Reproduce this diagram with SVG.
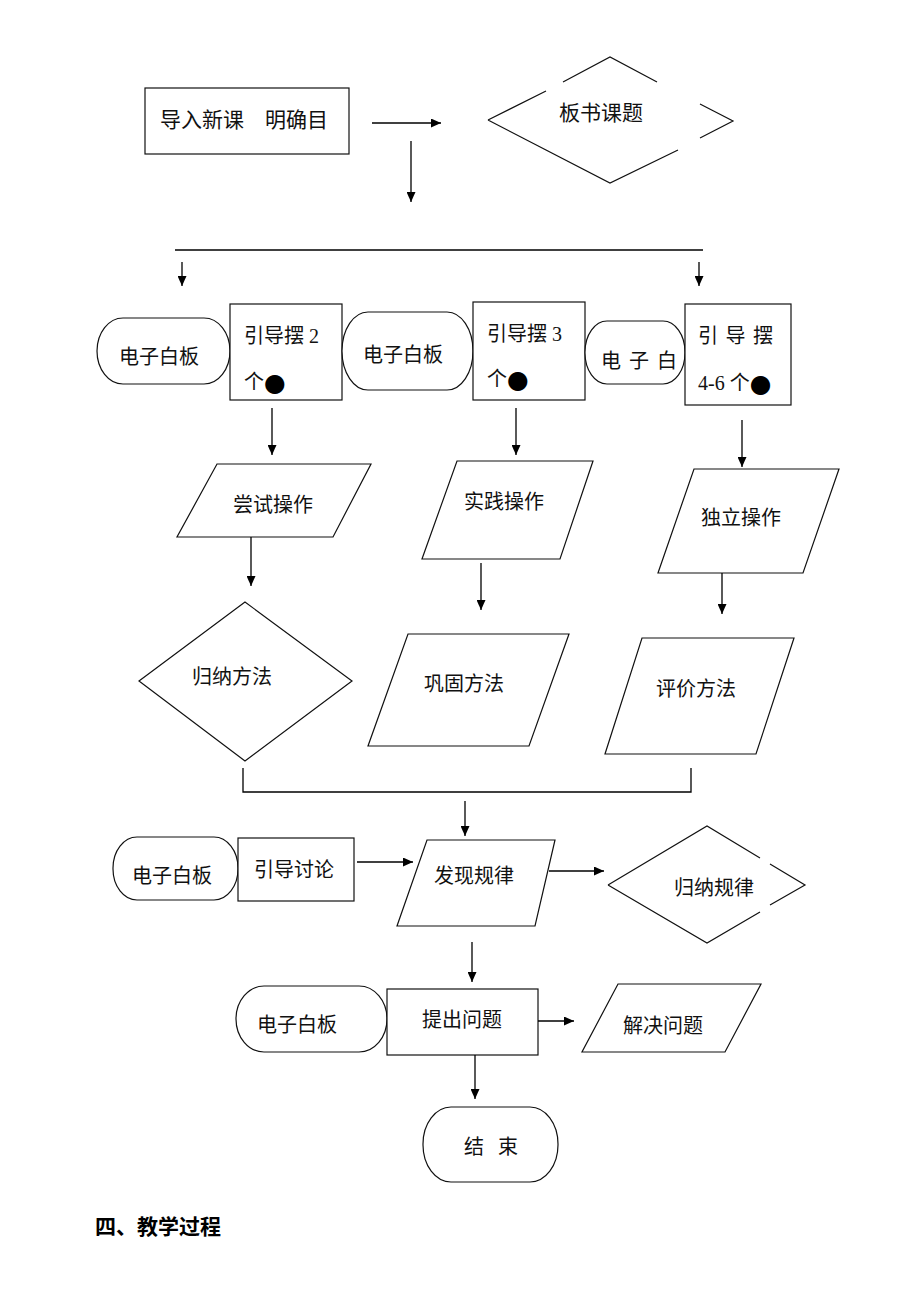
<svg xmlns="http://www.w3.org/2000/svg" width="920" height="1303" viewBox="0 0 920 1303">
<style>
  .s{fill:#fff;stroke:#111;stroke-width:1.2}
  .o{fill:none;stroke:#111;stroke-width:1.2}
  .c{fill:none;stroke:#000;stroke-width:1.3}
  .a{marker-end:url(#ah)}
  text{font-family:"Liberation Serif","Noto Sans CJK SC",serif;font-size:20px;fill:#111;dominant-baseline:central}
  .m{text-anchor:middle}
  .b{font-weight:bold;font-size:21px;fill:#000}
  .dot{font-family:"DejaVu Sans",sans-serif;font-size:25px;fill:#000}
</style>
<defs>
  <marker id="ah" markerUnits="userSpaceOnUse" markerWidth="10" markerHeight="9" refX="10" refY="4.5" orient="auto">
    <path d="M0,0 L10,4.5 L0,9 z" fill="#000"/>
  </marker>
</defs>
<rect width="920" height="1303" fill="#fff"/>

<g id="n-intro"><rect class="s" x="145" y="88" width="204" height="66"/><text x="160" y="120" style="font-size:21px">导入新课　明确目</text></g>
<g id="n-title"><path class="o" d="M488,120 L546,91 M563,82 L610,57 L657,82 M700,104 L733,121 L700,138 M678,150 L610,183 L488,120"/><text class="m" x="601" y="113" style="font-size:21px">板书课题</text></g>

<g id="n-wb1"><rect class="s" x="97" y="318" width="133" height="66" rx="26" ry="33"/><text class="m" x="159" y="357">电子白板</text></g>
<g id="n-g1"><rect class="s" x="230" y="304" width="112" height="96"/><text x="244" y="336">引导摆 2</text><text x="244" y="382">个<tspan class="dot">●</tspan></text></g>
<g id="n-wb2"><rect class="s" x="342" y="312" width="131" height="78" rx="26" ry="39"/><text class="m" x="403" y="355">电子白板</text></g>
<g id="n-g2"><rect class="s" x="473" y="302" width="112" height="98"/><text x="487" y="334">引导摆 3</text><text x="487" y="379">个<tspan class="dot">●</tspan></text></g>
<g id="n-wb3"><rect class="s" x="585" y="321" width="100" height="63" rx="22" ry="31"/><text x="601" y="361" textLength="76" lengthAdjust="spacing">电 子 白</text></g>
<g id="n-g3"><rect class="s" x="685" y="304" width="106" height="101"/><text x="698" y="336" textLength="75" lengthAdjust="spacing">引 导 摆</text><text x="698" y="383">4-6 个<tspan class="dot">●</tspan></text></g>

<g id="n-try"><polygon class="s" points="217,464 371,464 333,537 177,537"/><text class="m" x="273" y="505">尝试操作</text></g>
<g id="n-practice"><polygon class="s" points="457,461 593,461 560,559 422,559"/><text class="m" x="504" y="502">实践操作</text></g>
<g id="n-indep"><polygon class="s" points="694,469 839,469 803,573 658,573"/><text class="m" x="741" y="518">独立操作</text></g>

<g id="n-method"><polygon class="s" points="139,681 245,602 352,681 245,761"/><text class="m" x="232" y="677">归纳方法</text></g>
<g id="n-consol"><polygon class="s" points="408,634 569,634 529,746 368,746"/><text class="m" x="464" y="684">巩固方法</text></g>
<g id="n-eval"><polygon class="s" points="642,638 794,638 756,754 605,754"/><text class="m" x="696" y="689">评价方法</text></g>

<g id="n-wb4"><rect class="s" x="113" y="837" width="125" height="63" rx="24" ry="31"/><text class="m" x="172" y="876">电子白板</text></g>
<g id="n-discuss"><rect class="s" x="238" y="838" width="116" height="63"/><text class="m" x="294" y="870">引导讨论</text></g>
<g id="n-find"><polygon class="s" points="427,840 555,840 535,926 397,926"/><text class="m" x="474" y="876">发现规律</text></g>
<g id="n-rule"><path class="o" d="M608,885 L707,826 L760,858 M770,864 L805,885 L770,905 M760,912 L707,943 L608,885"/><text class="m" x="714" y="888">归纳规律</text></g>

<g id="n-wb5"><rect class="s" x="236" y="986" width="151" height="66" rx="28" ry="33"/><text class="m" x="297" y="1025">电子白板</text></g>
<g id="n-ask"><rect class="s" x="387" y="989" width="151" height="66"/><text class="m" x="462" y="1020">提出问题</text></g>
<g id="n-solve"><polygon class="s" points="618,984 761,984 725,1052 582,1052"/><text class="m" x="663" y="1026">解决问题</text></g>
<g id="n-end"><rect class="s" x="423" y="1107" width="135" height="75" rx="28" ry="37"/><text class="m" x="491" y="1147" textLength="54" lengthAdjust="spacing">结  束</text></g>

<g id="connectors">
  <line class="c a" x1="372" y1="123" x2="441" y2="123"/>
  <line class="c a" x1="411" y1="141" x2="411" y2="202"/>
  <line class="c" x1="175" y1="250" x2="703" y2="250"/>
  <line class="c a" x1="182" y1="262" x2="182" y2="286"/>
  <line class="c a" x1="699" y1="262" x2="699" y2="286"/>
  <line class="c a" x1="272" y1="408" x2="272" y2="455"/>
  <line class="c a" x1="516" y1="408" x2="516" y2="455"/>
  <line class="c a" x1="742" y1="420" x2="742" y2="467"/>
  <line class="c a" x1="251" y1="537" x2="251" y2="586"/>
  <line class="c a" x1="481" y1="563" x2="481" y2="610"/>
  <line class="c a" x1="722" y1="573" x2="722" y2="614"/>
  <path class="c" d="M243,768 V792 H691 V768"/>
  <line class="c a" x1="465" y1="801" x2="465" y2="836"/>
  <line class="c a" x1="357" y1="862" x2="413" y2="862"/>
  <line class="c a" x1="549" y1="871" x2="604" y2="871"/>
  <line class="c a" x1="472" y1="942" x2="472" y2="982"/>
  <line class="c a" x1="538" y1="1021" x2="574" y2="1021"/>
  <line class="c a" x1="475" y1="1055" x2="475" y2="1099"/>
</g>

<text class="b" x="95" y="1227">四、教学过程</text>
</svg>
